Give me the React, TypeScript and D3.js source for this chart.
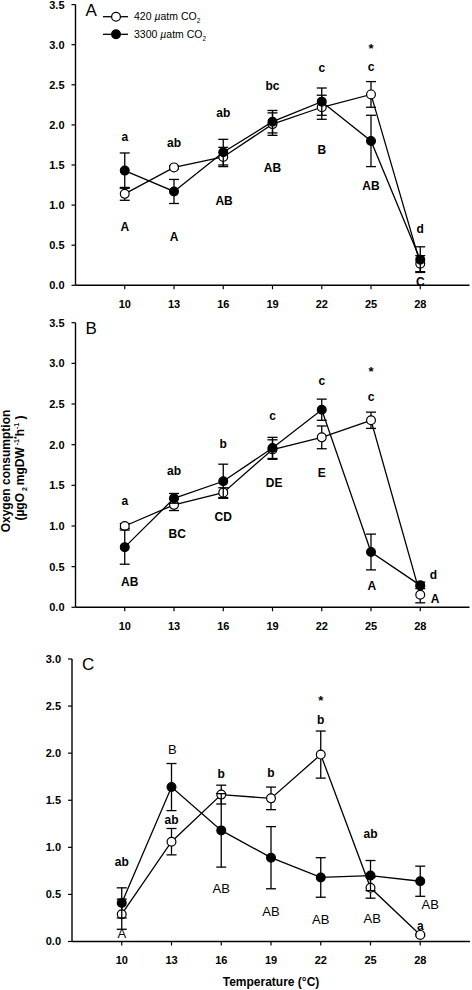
import React from "react";
import * as d3 from "d3";

// ---------- data ----------
const TEMPS = [10, 13, 16, 19, 22, 25, 28];

const A_420 = [1.14, 1.47, 1.6, 2.01, 2.22, 2.38, 0.27];
const A_420_SE = [0.08, 0.02, 0.12, 0.14, 0.15, 0.16, 0.1];
const A_3300 = [1.43, 1.17, 1.66, 2.04, 2.29, 1.8, 0.32];
const A_3300_SE = [0.22, 0.15, 0.16, 0.14, 0.17, 0.32, 0.16];

const B_420 = [1.0, 1.26, 1.41, 1.94, 2.09, 2.3, 0.155];
const B_420_SE = [0.03, 0.07, 0.06, 0.12, 0.14, 0.1, 0.1];
const B_3300 = [0.74, 1.34, 1.55, 1.96, 2.43, 0.68, 0.27];
const B_3300_SE = [0.21, 0.06, 0.21, 0.13, 0.13, 0.22, 0.04];

const C_420 = [0.29, 1.06, 1.56, 1.52, 1.985, 0.57, 0.07];
const C_420_SE = [0.16, 0.14, 0.1, 0.12, 0.25, 0.11, 0.01];
const C_3300 = [0.41, 1.64, 1.18, 0.89, 0.68, 0.7, 0.64];
const C_3300_SE = [0.16, 0.25, 0.39, 0.33, 0.21, 0.16, 0.16];

// significance letters: [temperature, value-level, text]
const A_LOWER: [number, number, string][] = [
  [10, 1.85, "a"], [13, 1.78, "ab"], [16, 2.15, "ab"], [19, 2.49, "bc"],
  [22, 2.71, "c"], [25, 2.73, "c"], [28, 0.71, "d"],
];
const A_UPPER: [number, number, string][] = [
  [10, 0.73, "A"], [13, 0.61, "A"], [16.05, 1.05, "AB"], [19, 1.47, "AB"],
  [22, 1.69, "B"], [25, 1.24, "AB"], [28, 0.05, "C"],
];
const A_STAR: [number, number][] = [[25, 2.99]];

const B_LOWER: [number, number, string][] = [
  [10, 1.31, "a"], [13, 1.68, "ab"], [16, 2.01, "b"], [19, 2.36, "c"],
  [22, 2.79, "c"], [25, 2.59, "c"], [28.8, 0.4, "d"],
];
const B_UPPER: [number, number, string][] = [
  [10.3, 0.31, "AB"], [13.2, 0.9, "BC"], [16, 1.11, "CD"], [19.1, 1.53, "DE"],
  [22, 1.65, "E"], [25.05, 0.27, "A"], [28.9, 0.1, "A"],
];
const B_STAR: [number, number][] = [[25, 2.93]];

const C_LOWER: [number, number, string][] = [
  [10, 0.85, "ab"], [13, 1.29, "ab"], [16, 1.78, "b"], [19, 1.79, "b"],
  [22, 2.36, "b"], [25, 1.14, "ab"], [28, 0.17, "a"],
];
const C_UPPER: [number, number, string][] = [
  [10, 0.09, "A"], [13.05, 2.04, "B"], [16, 0.57, "AB"], [19, 0.32, "AB"],
  [22, 0.24, "AB"], [25.1, 0.25, "AB"], [28.6, 0.4, "AB"],
];
const C_STAR: [number, number][] = [[22, 2.59]];

const Y_TICKS_AB = [0, 0.5, 1, 1.5, 2, 2.5, 3, 3.5];
const Y_TICKS_C = [0, 0.5, 1, 1.5, 2, 2.5, 3];
const X_DOMAIN: [number, number] = [7, 31];

const FONT = "'Liberation Sans', Arial, Helvetica, sans-serif";

type Letter = [number, number, string];

interface PanelProps {
  label: string;
  xRange: [number, number];
  yRange: [number, number];
  yMax: number;
  yTicks: number[];
  open: number[];
  openSe: number[];
  filled: number[];
  filledSe: number[];
  lower: Letter[];
  upper: Letter[];
  stars: [number, number][];
  upperBold: boolean;
}

function Series({ x, y, vals, se, filled }: any) {
  const line = d3
    .line<number>()
    .x((_, i) => x(TEMPS[i]))
    .y((v) => y(v));
  const cap = 5;
  return (
    <g>
      <path d={line(vals) || ""} fill="none" stroke="#000" strokeWidth={1.3} />
      {vals.map((v: number, i: number) => {
        const cx = x(TEMPS[i]);
        const y1 = y(v + se[i]);
        const y2 = y(v - se[i]);
        return (
          <g key={i} stroke="#000" strokeWidth={1.3}>
            <line x1={cx} x2={cx} y1={y1} y2={y2} />
            <line x1={cx - cap} x2={cx + cap} y1={y1} y2={y1} />
            <line x1={cx - cap} x2={cx + cap} y1={y2} y2={y2} />
          </g>
        );
      })}
      {vals.map((v: number, i: number) => (
        <circle
          key={"c" + i}
          cx={x(TEMPS[i])}
          cy={y(v)}
          r={4.4}
          fill={filled ? "#000" : "#fff"}
          stroke="#000"
          strokeWidth={1.2}
        />
      ))}
    </g>
  );
}

function Panel(p: PanelProps) {
  const x = d3.scaleLinear().domain(X_DOMAIN).range(p.xRange);
  const y = d3.scaleLinear().domain([0, p.yMax]).range(p.yRange);
  const x0 = p.xRange[0];
  const y0 = p.yRange[0];
  const fmt = d3.format(".1f");
  return (
    <g fontFamily={FONT}>
      <line x1={x0} x2={x0} y1={y0} y2={y(p.yMax)} stroke="#000" strokeWidth={1.4} />
      <line x1={x0} x2={p.xRange[1]} y1={y0} y2={y0} stroke="#000" strokeWidth={1.4} />
      {p.yTicks.map((t) => (
        <g key={"yt" + t}>
          <line x1={x0 - 4} x2={x0} y1={y(t)} y2={y(t)} stroke="#000" strokeWidth={1.2} />
          <text x={x0 - 11} y={y(t)} dy="0.36em" textAnchor="end" fontSize={11} fontWeight="bold">
            {fmt(t)}
          </text>
        </g>
      ))}
      {TEMPS.map((t) => (
        <g key={"xt" + t}>
          <line x1={x(t)} x2={x(t)} y1={y0} y2={y0 + 4} stroke="#000" strokeWidth={1.2} />
          <text x={x(t)} y={y0 + 19} dy="0.36em" textAnchor="middle" fontSize={11} fontWeight="bold">
            {t}
          </text>
        </g>
      ))}
      <text x={x0 + 10} y={y(p.yMax) + 11} fontSize={17}>
        {p.label}
      </text>

      <Series x={x} y={y} vals={p.open} se={p.openSe} filled={false} />
      <Series x={x} y={y} vals={p.filled} se={p.filledSe} filled={true} />

      {p.lower.map(([t, v, s], i) => (
        <text key={"lo" + i} x={x(t)} y={y(v)} dy="0.36em" textAnchor="middle" fontSize={12} fontWeight="bold">
          {s}
        </text>
      ))}
      {p.upper.map(([t, v, s], i) => (
        <text
          key={"up" + i}
          x={x(t)}
          y={y(v)}
          dy="0.36em"
          textAnchor="middle"
          fontSize={p.upperBold ? 12 : 13}
          fontWeight={p.upperBold ? "bold" : "normal"}
        >
          {s}
        </text>
      ))}
      {p.stars.map(([t, v], i) => (
        <text key={"st" + i} x={x(t)} y={y(v)} dy="0.55em" textAnchor="middle" fontSize={13} fontWeight="bold">
          *
        </text>
      ))}
    </g>
  );
}

function Legend() {
  const rows = [
    { yy: 16.7, filled: false, text: "420 " },
    { yy: 34.3, filled: true, text: "3300 " },
  ];
  return (
    <g fontFamily={FONT}>
      {rows.map((r, i) => (
        <g key={i}>
          <line x1={103} x2={128} y1={r.yy} y2={r.yy} stroke="#000" strokeWidth={1.3} />
          <circle cx={116} cy={r.yy} r={4.4} fill={r.filled ? "#000" : "#fff"} stroke="#000" strokeWidth={1.2} />
          <text x={134} y={r.yy} dy="0.36em" fontSize={10.5}>
            <tspan>{r.text}</tspan>
            <tspan fontStyle="italic">µ</tspan>
            <tspan>atm CO</tspan>
            <tspan fontSize={6.5} dy={3}>2</tspan>
          </text>
        </g>
      ))}
    </g>
  );
}

export default function App() {
  return (
    <div style={{ position: "absolute", left: 0, top: 0 }}>
      <svg width={472} height={990} viewBox="0 0 472 990" style={{ display: "block", background: "#fff" }}>
        <rect x={0} y={0} width={472} height={990} fill="#fff" />
        <Panel
          label="A"
          xRange={[75.5, 469.5]}
          yRange={[285.3, 4.6]}
          yMax={3.5}
          yTicks={Y_TICKS_AB}
          open={A_420}
          openSe={A_420_SE}
          filled={A_3300}
          filledSe={A_3300_SE}
          lower={A_LOWER}
          upper={A_UPPER}
          stars={A_STAR}
          upperBold={true}
        />
        <Legend />
        <Panel
          label="B"
          xRange={[75.5, 469.5]}
          yRange={[607.3, 322.7]}
          yMax={3.5}
          yTicks={Y_TICKS_AB}
          open={B_420}
          openSe={B_420_SE}
          filled={B_3300}
          filledSe={B_3300_SE}
          lower={B_LOWER}
          upper={B_UPPER}
          stars={B_STAR}
          upperBold={true}
        />
        <Panel
          label="C"
          xRange={[72, 470]}
          yRange={[941.5, 659]}
          yMax={3}
          yTicks={Y_TICKS_C}
          open={C_420}
          openSe={C_420_SE}
          filled={C_3300}
          filledSe={C_3300_SE}
          lower={C_LOWER}
          upper={C_UPPER}
          stars={C_STAR}
          upperBold={false}
        />
        <g fontFamily={FONT} fontWeight="bold" fontSize={12}>
          <text transform="translate(10,471) rotate(-90)" textAnchor="middle">
            Oxygen consumption
          </text>
          <text transform="translate(24,468) rotate(-90)" textAnchor="middle">
            <tspan>(µgO</tspan>
            <tspan fontSize={7} dy={3}>{" 2 "}</tspan>
            <tspan dy={-3}>mgDW</tspan>
            <tspan fontSize={7} dy={-5}>{" -1*"}</tspan>
            <tspan dy={5}>h</tspan>
            <tspan fontSize={7} dy={-5}>-1</tspan>
            <tspan dy={5}>{" )"}</tspan>
          </text>
        </g>
        <text x={271} y={982} dy="0.36em" textAnchor="middle" fontFamily={FONT} fontWeight="bold" fontSize={12}>
          Temperature (°C)
        </text>
      </svg>
    </div>
  );
}
